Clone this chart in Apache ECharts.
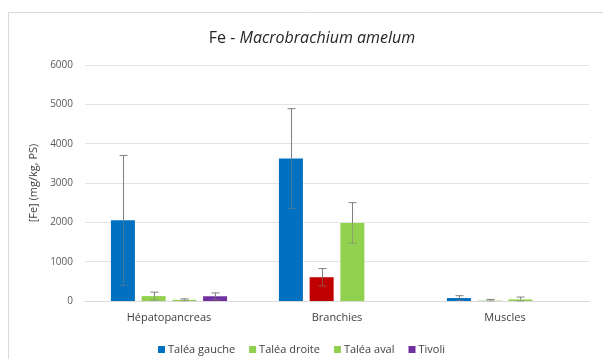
<!DOCTYPE html>
<html>
<head>
<meta charset="utf-8">
<script src="https://cdn.jsdelivr.net/npm/echarts@6/dist/echarts.min.js"></script>
<style>
  html, body { margin: 0; padding: 0; background: #fff; }
  #chart { width: 603px; height: 359px; }
</style>
</head>
<body>
<div id="chart"></div>
<script>
// Tissues sampled
const categories = ['Hépatopancreas', 'Branchies', 'Muscles'];

// Sampling sites (legend order)
const siteNames = ['Taléa gauche', 'Taléa droite', 'Taléa aval', 'Tivoli'];

// Mean Fe concentration (mg/kg, PS) per site, per tissue
const taleaGauche = [2050, 3620, 75];
const taleaDroite = [125, 605, 10];
const taleaAval = [30, 1985, 40];
const tivoli = [120, 0, 0];

// Standard deviations (error bars)
const errGauche = [1650, 1270, 60];
const errDroite = [100, 220, 30];
const errAval = [25, 515, 60];
const errTivoli = [85, 0, 0];

// Y axis tick values
const yTicks = [0, 1000, 2000, 3000, 4000, 5000, 6000];

const siteColors = ['#0070C0', '#92D050', '#92D050', '#7030A0'];
const branchiesDroiteColor = '#C00000';

const means = [taleaGauche, taleaDroite, taleaAval, tivoli];
const errors = [errGauche, errDroite, errAval, errTivoli];

const BAR_W = 24;
const BAR_STEP = 30.7;

const chart = echarts.init(document.getElementById('chart'));

const barSeries = siteNames.map((name, s) => ({
  name: name,
  type: 'bar',
  barWidth: BAR_W,
  barGap: '28%',
  itemStyle: { color: siteColors[s] },
  data: means[s].map((v, i) => {
    if (s === 1 && i === 1) {
      return { value: v, itemStyle: { color: branchiesDroiteColor } };
    }
    return v;
  }),
  z: 2
}));

const errorSeries = siteNames.map((name, s) => ({
  type: 'custom',
  name: name + ' err',
  z: 5,
  silent: true,
  data: means[s].map((v, i) => [i, v, errors[s][i]]),
  renderItem: function (params, api) {
    const ci = api.value(0);
    const m = api.value(1);
    const e = api.value(2);
    if (!e) return null;
    const off = (s - 1.5) * BAR_STEP;
    const top = api.coord([ci, m + e]);
    const mid = api.coord([ci, m]);
    const bot = api.coord([ci, Math.max(m - e, 0)]);
    const x = Math.round(top[0] + off) + 0.5;
    const style = { stroke: '#808080', lineWidth: 1 };
    const inner = { stroke: '#808080', lineWidth: 1, opacity: 0.55 };
    return {
      type: 'group',
      children: [
        { type: 'line', shape: { x1: x, y1: top[1], x2: x, y2: mid[1] }, style: style },
        { type: 'line', shape: { x1: x - 4, y1: top[1], x2: x + 4, y2: top[1] }, style: style },
        { type: 'line', shape: { x1: x, y1: mid[1], x2: x, y2: bot[1] }, style: inner },
        { type: 'line', shape: { x1: x - 4, y1: bot[1], x2: x + 4, y2: bot[1] }, style: inner }
      ]
    };
  }
}));

chart.setOption({
  animation: false,
  textStyle: { fontFamily: 'Open Sans' },
  graphic: [{
    type: 'rect',
    shape: { x: 8.5, y: 12.5, width: 620, height: 380 },
    style: { fill: 'none', stroke: '#d9d9d9', lineWidth: 1 },
    silent: true
  }],
  title: {
    text: '{n|Fe - }{i|Macrobrachium amelum}',
    left: 307,
    textAlign: 'center',
    top: 25,
    textStyle: {
      fontWeight: 'normal',
      rich: {
        n: { fontSize: 16, color: '#262626', fontWeight: 'normal', fontFamily: 'Open Sans' },
        i: { fontSize: 16, color: '#262626', fontWeight: 'normal', fontStyle: 'italic', fontFamily: 'Open Sans' }
      }
    }
  },
  legend: {
    data: siteNames,
    left: 'center',
    top: 339,
    itemWidth: 7,
    itemHeight: 7,
    itemGap: 14,
    icon: 'rect',
    textStyle: { fontSize: 11, color: '#404040', padding: [0, 0, 0, -2] }
  },
  grid: { left: 85, right: 14, top: 65, bottom: 58 },
  xAxis: {
    type: 'category',
    data: categories,
    axisTick: { show: false },
    axisLine: { lineStyle: { color: '#d9d9d9' } },
    axisLabel: { color: '#404040', fontSize: 11, margin: 11 }
  },
  yAxis: {
    type: 'value',
    min: yTicks[0],
    max: yTicks[yTicks.length - 1],
    interval: yTicks[1] - yTicks[0],
    name: '[Fe] (mg/kg, PS)',
    nameLocation: 'middle',
    nameGap: 45,
    nameTextStyle: { color: '#404040', fontSize: 11 },
    axisLine: { show: false },
    axisTick: { show: false },
    axisLabel: { color: '#595959', fontSize: 10, margin: 12, formatter: v => String(v) },
    splitLine: { lineStyle: { color: '#e3e3e3' } }
  },
  series: barSeries.concat(errorSeries)
});
</script>
</body>
</html>
